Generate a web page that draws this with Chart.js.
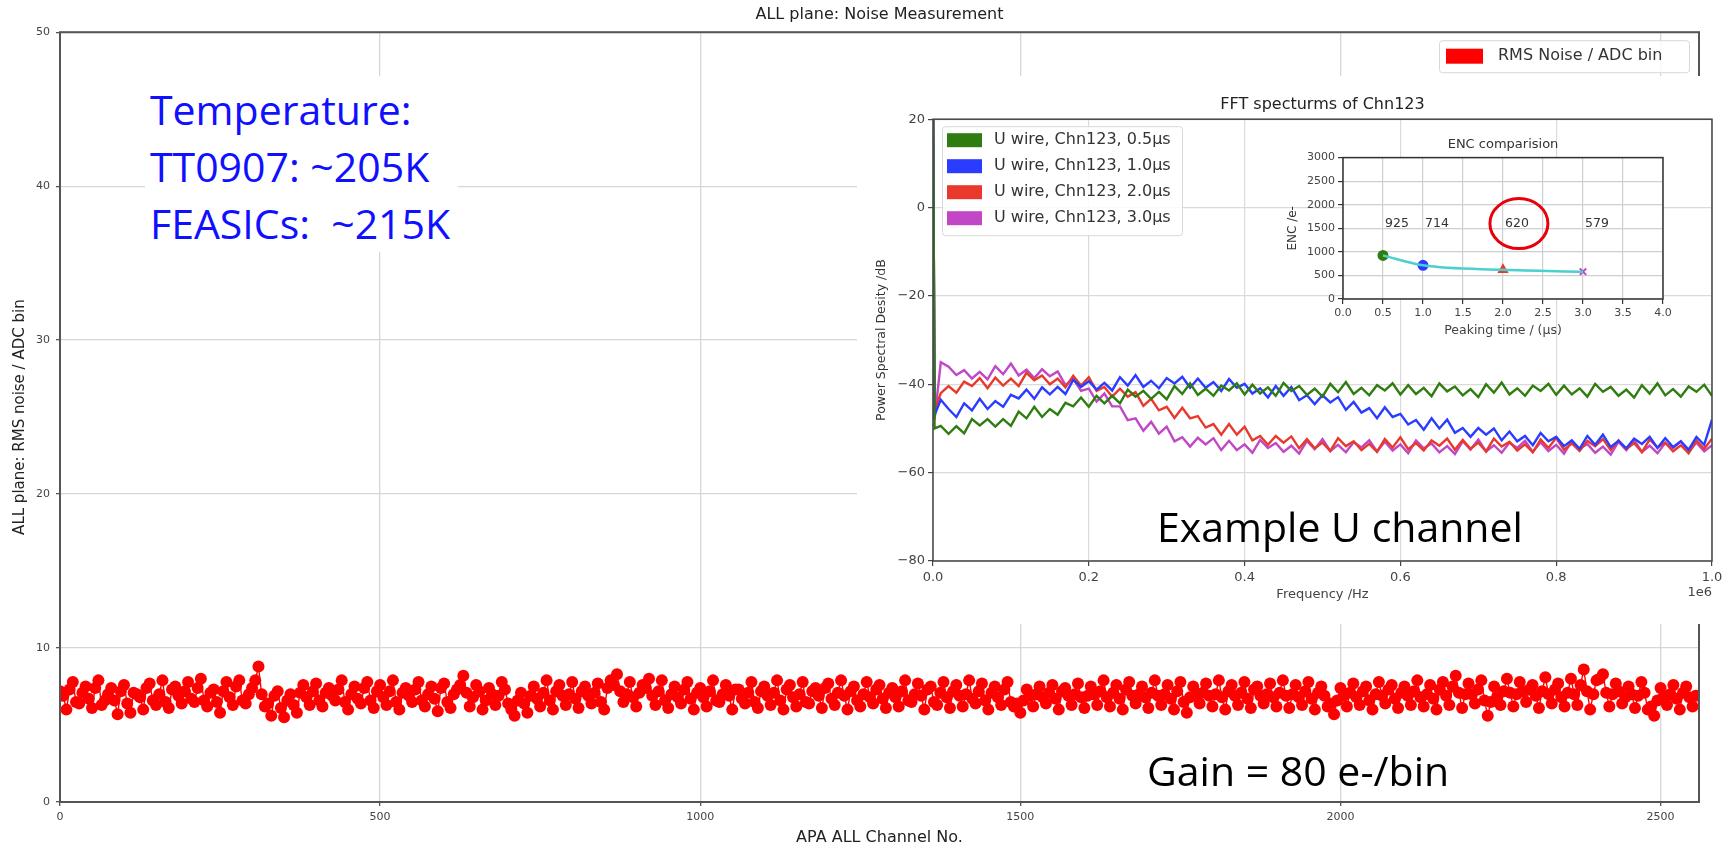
<!DOCTYPE html>
<html>
<head>
<meta charset="utf-8">
<title>ALL plane: Noise Measurement</title>
<script src="https://cdn.jsdelivr.net/npm/chart.js@4.4.1/dist/chart.umd.min.js"></script>
<style>
  html, body { margin: 0; padding: 0; background: #fff; }
  #page { position: relative; width: 1732px; height: 849px; overflow: hidden; }
  canvas { position: absolute; display: block; }
  .note { position: absolute; font-family: 'Open Sans', sans-serif; font-size: 41px; line-height: 57px; white-space: nowrap; color: #000; }
  #temperature { left: 145px; top: 76px; padding: 5px 8px 0 5px; background: #fff; color: #1010ff; }
  #inset { position: absolute; left: 857px; top: 76px; width: 875px; height: 548px; background: #fff; }
</style>
</head>
<body>
<div id="page">
  <canvas id="mainChart" width="1732" height="849" style="left:0;top:0;width:1732px;height:849px"></canvas>
  <div class="note" id="temperature">Temperature:<br>TT0907: ~205K<br>FEASICs:&nbsp; ~215K</div>
  <div id="inset">
    <canvas id="fftChart" width="875" height="548" style="left:0;top:0;width:875px;height:548px"></canvas>
    <canvas id="encChart" width="400" height="215" style="left:423px;top:54px;width:400px;height:215px"></canvas>
  </div>
  <div class="note" style="left:1157px;top:498px">Example U channel</div>
  <div class="note" style="left:1147px;top:742px">Gain = 80 e-/bin</div>
</div>
<script>
// ---- main panel: RMS noise per channel ----
// channels read every 10, plus the in-between channel 5 higher
const channels = [
  0, 10, 20, 30, 40, 50, 60, 70, 80, 90, 100, 110, 120, 130, 140, 150, 160, 170, 180, 190,
  200, 210, 220, 230, 240, 250, 260, 270, 280, 290, 300, 310, 320, 330, 340, 350, 360, 370, 380, 390,
  400, 410, 420, 430, 440, 450, 460, 470, 480, 490, 500, 510, 520, 530, 540, 550, 560, 570, 580, 590,
  600, 610, 620, 630, 640, 650, 660, 670, 680, 690, 700, 710, 720, 730, 740, 750, 760, 770, 780, 790,
  800, 810, 820, 830, 840, 850, 860, 870, 880, 890, 900, 910, 920, 930, 940, 950, 960, 970, 980, 990,
  1000, 1010, 1020, 1030, 1040, 1050, 1060, 1070, 1080, 1090, 1100, 1110, 1120, 1130, 1140, 1150, 1160, 1170, 1180, 1190,
  1200, 1210, 1220, 1230, 1240, 1250, 1260, 1270, 1280, 1290, 1300, 1310, 1320, 1330, 1340, 1350, 1360, 1370, 1380, 1390,
  1400, 1410, 1420, 1430, 1440, 1450, 1460, 1470, 1480, 1490, 1500, 1510, 1520, 1530, 1540, 1550, 1560, 1570, 1580, 1590,
  1600, 1610, 1620, 1630, 1640, 1650, 1660, 1670, 1680, 1690, 1700, 1710, 1720, 1730, 1740, 1750, 1760, 1770, 1780, 1790,
  1800, 1810, 1820, 1830, 1840, 1850, 1860, 1870, 1880, 1890, 1900, 1910, 1920, 1930, 1940, 1950, 1960, 1970, 1980, 1990,
  2000, 2010, 2020, 2030, 2040, 2050, 2060, 2070, 2080, 2090, 2100, 2110, 2120, 2130, 2140, 2150, 2160, 2170, 2180, 2190,
  2200, 2210, 2220, 2230, 2240, 2250, 2260, 2270, 2280, 2290, 2300, 2310, 2320, 2330, 2340, 2350, 2360, 2370, 2380, 2390,
  2400, 2410, 2420, 2430, 2440, 2450, 2460, 2470, 2480, 2490, 2500, 2510, 2520, 2530, 2540, 2550
];
const channelHalfStep = 5;
const rmsNoise = [
  7.2, 6.0, 7.8, 6.4, 7.5, 6.1, 7.9, 6.6, 7.4, 5.7,
  7.6, 5.8, 7.0, 6.0, 7.7, 6.3, 7.9, 6.1, 7.5, 6.4,
  7.8, 6.5, 8.0, 6.2, 7.3, 5.8, 7.8, 6.3, 7.9, 6.4,
  7.4, 8.8, 6.2, 5.6, 7.2, 5.5, 7.0, 5.8, 7.6, 6.3,
  7.7, 6.2, 7.4, 6.6, 7.9, 6.0, 7.5, 6.4, 7.8, 6.1,
  7.6, 6.3, 7.9, 6.0, 7.4, 6.5, 7.8, 6.2, 7.5, 5.9,
  7.7, 6.1, 7.3, 8.2, 6.2, 7.6, 6.0, 7.4, 6.3, 7.8,
  6.4, 5.6, 7.1, 5.8, 7.5, 6.2, 7.9, 6.0, 7.6, 6.3,
  7.8, 6.1, 7.5, 6.4, 7.7, 6.0, 7.9, 8.3, 6.5, 7.8,
  6.2, 7.6, 8.0, 6.3, 7.9, 6.1, 7.5, 6.4, 7.8, 6.0,
  7.4, 6.2, 7.9, 6.5, 7.6, 6.0, 7.3, 6.4, 7.8, 6.1,
  7.5, 6.3, 7.9, 6.0, 7.6, 6.2, 7.8, 6.4, 7.4, 6.1,
  7.7, 6.3, 7.9, 6.0, 7.5, 6.2, 7.8, 6.4, 7.6, 6.1,
  7.4, 6.2, 7.9, 6.5, 7.7, 6.0, 7.5, 6.3, 7.8, 6.1,
  7.6, 6.2, 7.9, 6.4, 7.7, 6.0, 7.5, 6.3, 7.8, 6.2,
  5.8, 7.3, 6.2, 7.5, 6.4, 7.6, 6.0, 7.4, 6.3, 7.7,
  6.1, 7.5, 6.3, 7.9, 6.2, 7.6, 6.0, 7.8, 6.4, 7.5,
  6.1, 7.9, 6.3, 7.6, 6.0, 7.8, 5.8, 7.5, 6.4, 7.7,
  6.2, 7.9, 6.0, 7.6, 6.3, 7.8, 6.1, 7.5, 6.4, 7.7,
  6.2, 7.9, 6.1, 7.6, 6.3, 7.8, 6.0, 7.5, 6.2, 5.7,
  7.4, 6.2, 7.7, 6.3, 7.5, 6.0, 7.8, 6.4, 7.6, 6.1,
  7.5, 6.3, 7.9, 6.2, 7.6, 6.0, 7.8, 6.3, 8.2, 6.1,
  7.7, 6.4, 7.9, 5.6, 7.5, 6.3, 8.0, 6.2, 7.8, 6.5,
  7.6, 6.1, 8.1, 6.4, 7.7, 6.2, 8.0, 6.3, 8.6, 6.0,
  7.9, 8.3, 6.2, 7.7, 6.4, 7.5, 6.1, 7.8, 6.0, 5.6,
  7.4, 6.3, 7.6, 6.0, 7.5, 6.2
];
const rmsNoiseMid = [
  6.9, 7.3, 6.5, 7.1, 6.7, 7.4, 6.3, 7.0, 6.6, 7.2,
  6.4, 7.1, 6.8, 7.4, 6.6, 7.0, 6.5, 7.3, 6.9, 7.2,
  6.7, 7.4, 6.6, 7.1, 6.5, 7.2, 6.8, 7.5, 6.6, 7.0,
  7.9, 7.0, 6.4, 6.9, 6.1, 6.6, 6.3, 7.1, 6.8, 7.2,
  6.6, 7.1, 6.9, 7.3, 6.5, 7.0, 6.7, 7.4, 6.6, 7.2,
  6.8, 7.2, 6.5, 7.1, 6.9, 7.3, 6.6, 7.0, 6.7, 7.4,
  6.5, 7.0, 7.6, 7.1, 6.8, 7.2, 6.6, 7.0, 6.9, 7.3,
  6.0, 6.6, 6.4, 6.9, 6.7, 7.1, 6.6, 7.2, 6.9, 7.0,
  6.7, 7.2, 6.9, 7.1, 6.5, 7.4, 7.6, 7.2, 7.0, 6.8,
  7.1, 7.4, 6.9, 7.2, 6.6, 7.0, 6.8, 7.3, 6.7, 7.1,
  6.8, 7.2, 6.6, 7.0, 6.9, 7.3, 6.7, 7.1, 6.5, 7.2,
  6.9, 7.1, 6.6, 7.3, 6.8, 7.0, 6.5, 7.2, 6.9, 7.4,
  6.7, 7.1, 6.9, 7.2, 6.6, 7.0, 6.8, 7.3, 6.7, 7.1,
  6.8, 7.2, 6.6, 7.0, 6.9, 7.3, 6.5, 7.1, 6.8, 7.2,
  6.9, 7.0, 6.7, 7.2, 6.6, 7.1, 6.8, 7.3, 6.5, 6.4,
  6.6, 6.9, 7.0, 6.8, 7.1, 6.7, 7.2, 6.9, 7.0, 6.8,
  6.9, 7.0, 7.2, 6.8, 7.1, 6.7, 7.3, 6.9, 7.0, 6.8,
  7.1, 6.9, 7.0, 6.7, 7.2, 6.5, 6.8, 7.0, 7.1, 6.9,
  7.0, 6.8, 7.2, 6.9, 7.1, 6.7, 7.3, 6.9, 7.0, 6.8,
  7.1, 6.9, 7.0, 6.8, 7.2, 6.7, 7.1, 6.9, 6.4, 6.6,
  6.9, 7.1, 6.8, 7.2, 6.6, 7.0, 6.9, 7.3, 6.7, 7.1,
  6.9, 7.2, 6.8, 7.0, 6.7, 7.3, 6.9, 7.5, 7.1, 7.0,
  7.0, 7.3, 6.6, 6.5, 6.8, 7.2, 7.1, 7.0, 7.2, 7.3,
  6.9, 7.2, 7.0, 7.3, 6.8, 7.1, 7.0, 7.6, 7.2, 7.0,
  8.0, 7.1, 7.0, 7.2, 6.8, 7.0, 6.9, 7.1, 6.2, 6.6,
  6.8, 7.0, 6.7, 7.1, 6.8, 6.9
];
const mainXTicks = [0, 500, 1000, 1500, 2000, 2500];
const mainYTicks = [0, 10, 20, 30, 40, 50];

// ---- FFT inset (kHz, dB) ----
const freqKHz = [
  0, 2, 10, 20, 30, 40, 50, 60, 70, 80, 90, 100, 110, 120, 130, 140, 150, 160, 170, 180, 190,
  200, 210, 220, 230, 240, 250, 260, 270, 280, 290, 300, 310, 320, 330, 340, 350, 360, 370, 380, 390,
  400, 410, 420, 430, 440, 450, 460, 470, 480, 490, 500, 510, 520, 530, 540, 550, 560, 570, 580, 590,
  600, 610, 620, 630, 640, 650, 660, 670, 680, 690, 700, 710, 720, 730, 740, 750, 760, 770, 780, 790,
  800, 810, 820, 830, 840, 850, 860, 870, 880, 890, 900, 910, 920, 930, 940, 950, 960, 970, 980, 990, 1000
];
const psd05us = [
  30, -50,
  -49.4, -51.2, -49.5, -51.1, -47.9, -49.3, -47.9, -49.6, -47.9, -49.4,
  -46.2, -47.7, -45.1, -47.4, -45.6, -46.9, -44.2, -45.0, -43.0, -45.1,
  -42.6, -44.3, -42.6, -44.3, -41.2, -42.8, -41.5, -43.3, -41.7, -43.4,
  -40.4, -42.2, -39.8, -42.4, -41.0, -42.6, -40.3, -41.4, -39.8, -42.3,
  -40.1, -42.1, -40.7, -42.6, -39.7, -41.5, -40.4, -42.4, -41.0, -42.8,
  -39.9, -41.8, -39.5, -42.2, -40.8, -42.5, -40.2, -41.4, -39.8, -42.3,
  -40.2, -42.2, -40.8, -42.7, -39.8, -41.6, -40.5, -42.5, -41.1, -42.9,
  -40.0, -41.9, -39.6, -42.3, -40.9, -42.6, -40.3, -41.5, -39.9, -42.4,
  -40.3, -42.3, -40.9, -42.8, -39.9, -41.7, -40.6, -42.6, -41.2, -43.0,
  -40.2, -42.1, -39.8, -42.5, -41.1, -42.8, -40.5, -41.7, -40.1, -42.6
];
const psd10us = [
  30, -47,
  -43.5, -45.6, -47.4, -44.3, -45.9, -43.3, -45.6, -43.8, -45.1, -42.4,
  -43.2, -41.2, -43.3, -40.7, -42.3, -40.6, -42.2, -39.0, -40.6, -39.3,
  -41.2, -39.7, -41.4, -38.4, -40.3, -37.9, -40.6, -39.2, -40.9, -38.6,
  -39.8, -38.3, -40.8, -38.7, -40.8, -39.5, -41.5, -38.8, -40.8, -39.9,
  -42.1, -40.9, -43.0, -40.4, -42.6, -40.6, -43.6, -42.5, -44.5, -42.5,
  -44.1, -42.9, -45.8, -44.0, -46.4, -45.4, -47.7, -45.2, -47.4, -46.7,
  -49.1, -48.1, -50.3, -47.7, -50.0, -48.0, -51.0, -49.9, -51.9, -49.9,
  -51.4, -50.0, -52.7, -50.7, -52.9, -51.7, -53.8, -51.0, -52.9, -51.9,
  -54.0, -52.7, -54.6, -51.7, -53.7, -51.4, -54.2, -52.8, -54.5, -52.3,
  -53.5, -51.9, -54.4, -52.2, -54.2, -52.9, -54.8, -51.9, -53.7, -48.0
];
const psd20us = [
  30, -46,
  -42.0, -40.4, -41.9, -39.4, -40.4, -38.6, -40.9, -38.5, -40.3, -38.7,
  -40.4, -37.4, -39.1, -38.0, -40.0, -38.7, -40.7, -38.1, -40.3, -38.4,
  -41.5, -40.6, -42.8, -41.0, -42.8, -41.8, -44.9, -43.3, -45.9, -45.1,
  -47.6, -45.3, -47.7, -47.2, -49.8, -49.0, -51.4, -49.0, -51.4, -49.6,
  -52.7, -51.7, -53.7, -51.7, -53.2, -51.8, -54.5, -52.4, -54.5, -53.2,
  -55.1, -52.2, -54.0, -52.9, -54.9, -53.5, -55.3, -52.4, -54.3, -52.0,
  -54.7, -53.3, -55.0, -52.7, -53.9, -52.3, -54.8, -52.6, -54.6, -53.2,
  -55.2, -52.3, -54.1, -53.0, -55.0, -53.6, -55.4, -52.5, -54.4, -52.1,
  -54.8, -53.4, -55.1, -52.8, -54.0, -52.4, -54.9, -52.7, -54.7, -53.3,
  -55.4, -52.5, -54.3, -53.2, -55.2, -53.8, -55.6, -52.7, -54.6, -52.3
];
const psd30us = [
  30, -48,
  -35.0, -36.0, -37.9, -36.8, -38.7, -37.2, -38.9, -35.9, -37.7, -35.3,
  -38.0, -36.7, -38.6, -36.6, -38.2, -37.1, -40.2, -38.7, -41.5, -41.0,
  -43.9, -42.1, -45.0, -45.0, -48.1, -47.7, -50.5, -48.5, -51.2, -49.6,
  -52.9, -52.0, -54.1, -52.1, -53.6, -52.2, -54.9, -52.8, -54.9, -53.6,
  -55.5, -52.6, -54.4, -53.3, -55.3, -53.9, -55.7, -52.8, -54.7, -52.4,
  -55.1, -53.7, -55.4, -53.1, -54.3, -52.7, -55.2, -53.0, -55.0, -53.6,
  -55.6, -52.7, -54.5, -53.4, -55.4, -54.0, -55.8, -52.9, -54.8, -52.5,
  -55.2, -53.8, -55.5, -53.2, -54.4, -52.8, -55.3, -53.1, -55.1, -53.7,
  -55.7, -52.8, -54.6, -53.5, -55.5, -54.1, -55.9, -53.0, -54.9, -52.6,
  -55.3, -53.9, -55.6, -53.3, -54.5, -52.9, -55.4, -53.2, -55.2, -53.8
];
const fftSeries = [psd05us, psd10us, psd20us, psd30us];
const fftLabels = ['U wire, Chn123, 0.5\u03bcs', 'U wire, Chn123, 1.0\u03bcs', 'U wire, Chn123, 2.0\u03bcs', 'U wire, Chn123, 3.0\u03bcs'];
const fftColors = ['#2f7d10', '#2a3cff', '#e8392c', '#c247c6'];
const fftXTicks = [0, 200000, 400000, 600000, 800000, 1000000];
const fftYTicks = [-80, -60, -40, -20, 0, 20];

// ---- ENC inset ----
const peakingTimes = [0.5, 1.0, 2.0, 3.0];
const encValues = [925, 714, 620, 579];
const encMarkers = ['circle', 'circle', 'triangle', 'crossRot'];
const encXTicks = [0, 0.5, 1, 1.5, 2, 2.5, 3, 3.5, 4];
const encYTicks = [0, 500, 1000, 1500, 2000, 2500, 3000];

const FONT = "'DejaVu Sans', sans-serif";

function fixedTicks(list) {
  return scale => { scale.ticks = list.map(v => ({ value: v })); };
}
function minusFmt(v) {
  return v < 0 ? '\u2212' + Math.abs(v) : String(v);
}

// box round the plot area (matplotlib spines), optional white face
const frameBox = {
  id: 'frameBox',
  beforeDraw(chart, args, o) {
    if (!o.fill) return;
    const a = chart.chartArea;
    chart.ctx.save();
    chart.ctx.fillStyle = o.fill;
    chart.ctx.fillRect(a.left, a.top, a.width, a.height);
    chart.ctx.restore();
  },
  afterDatasetsDraw(chart, args, o) {
    const { ctx, chartArea: a } = chart;
    ctx.save();
    ctx.strokeStyle = o.color || '#555';
    ctx.lineWidth = o.width || 1.5;
    ctx.strokeRect(a.left, a.top, a.width, a.height);
    ctx.restore();
  }
};

// legend drawn inside the plot area
const boxLegend = {
  id: 'boxLegend',
  afterDraw(chart, args, o) {
    const { ctx, chartArea: a } = chart;
    const x = o.right !== undefined ? a.right - o.right - o.width : a.left + o.left;
    const y = a.top + o.top;
    ctx.save();
    ctx.fillStyle = 'rgba(255,255,255,0.85)';
    ctx.strokeStyle = '#d8d8d8';
    ctx.lineWidth = 1;
    ctx.beginPath();
    ctx.roundRect(x + 0.5, y + 0.5, o.width, o.height, 3);
    ctx.fill();
    ctx.stroke();
    ctx.font = o.font;
    ctx.textBaseline = 'middle';
    ctx.textAlign = 'left';
    chart.data.datasets.forEach((ds, i) => {
      const cy = y + o.firstRow + i * o.rowGap;
      ctx.fillStyle = ds.borderColor;
      ctx.fillRect(x + o.swatchX, cy - o.swatchH / 2, o.swatchW, o.swatchH);
      ctx.fillStyle = '#333';
      ctx.fillText(ds.label, x + o.textX, cy);
    });
    ctx.restore();
  }
};

// "1e6" offset text under the right end of the x axis
const offsetText = {
  id: 'offsetText',
  afterDraw(chart, args, o) {
    const { ctx, chartArea: a } = chart;
    ctx.save();
    ctx.font = '13px ' + FONT;
    ctx.fillStyle = '#444';
    ctx.textAlign = 'right';
    ctx.textBaseline = 'middle';
    ctx.fillText(o.text, a.right, a.bottom + o.dy);
    ctx.restore();
  }
};

// value labels and the red circle in the ENC inset
const encNotes = {
  id: 'encNotes',
  afterDatasetsDraw(chart, args, o) {
    const { ctx, scales: { x, y } } = chart;
    const ly = y.getPixelForValue(o.labelLevel);
    ctx.save();
    ctx.font = '12.5px ' + FONT;
    ctx.fillStyle = '#333';
    ctx.textAlign = 'left';
    ctx.textBaseline = 'middle';
    peakingTimes.forEach((t, i) => {
      ctx.fillText(String(encValues[i]), x.getPixelForValue(t) + 2, ly);
    });
    const k = o.circled;
    const w = ctx.measureText(String(encValues[k])).width;
    const cx = x.getPixelForValue(peakingTimes[k]) + 2 + w / 2 + 2;
    ctx.strokeStyle = '#e8000b';
    ctx.lineWidth = 3;
    ctx.beginPath();
    ctx.ellipse(cx, ly, o.rx, o.ry, 0, 0, Math.PI * 2);
    ctx.stroke();
    ctx.restore();
  }
};

// interleave the two channel readings in channel order
const rmsPoints = [];
channels.forEach((c, i) => {
  rmsPoints.push({ x: c, y: rmsNoise[i] });
  rmsPoints.push({ x: c + channelHalfStep, y: rmsNoiseMid[i] });
});

// main chart
new Chart(document.getElementById('mainChart'), {
  type: 'line',
  data: {
    datasets: [{
      label: 'RMS Noise / ADC bin',
      data: rmsPoints,
      borderColor: '#ff0000',
      backgroundColor: '#ff0000',
      borderWidth: 1.4,
      pointRadius: 6,
      pointBorderWidth: 0,
      pointBackgroundColor: '#ff0000'
    }]
  },
  options: {
    responsive: false,
    animation: false,
    events: [],
    layout: { padding: { left: 0, right: 33, top: 0, bottom: 0 } },
    plugins: {
      legend: { display: false },
      tooltip: { enabled: false },
      title: {
        display: true, text: 'ALL plane: Noise Measurement', fullSize: false, color: '#222',
        font: { family: FONT, size: 16, weight: 'normal' }, padding: { top: 5, bottom: 8 }
      },
      frameBox: { color: '#555', width: 2 },
      boxLegend: { right: 10, top: 8, width: 250, height: 32, firstRow: 16, rowGap: 0, swatchX: 7, swatchW: 37, swatchH: 15, textX: 59, font: '16px ' + FONT }
    },
    scales: {
      x: {
        type: 'linear', min: 0, max: 2560,
        afterBuildTicks: fixedTicks(mainXTicks),
        afterFit: s => { s.height = 47; },
        grid: { color: '#d6d6d6', lineWidth: 1.3, tickLength: 4, tickColor: '#555' },
        border: { display: false },
        ticks: { font: { family: FONT, size: 11 }, color: '#444', padding: 5, maxRotation: 0, callback: v => String(v) },
        title: { display: true, text: 'APA ALL Channel No.', color: '#222', font: { family: FONT, size: 16 }, padding: { top: 0, bottom: 2 } }
      },
      y: {
        min: 0, max: 50,
        afterBuildTicks: fixedTicks(mainYTicks),
        afterFit: s => { s.width = 60; },
        grid: { color: '#d6d6d6', lineWidth: 1.3, tickLength: 4, tickColor: '#555' },
        border: { display: false },
        ticks: { font: { family: FONT, size: 11 }, color: '#444', padding: 6, callback: v => String(v) },
        title: { display: true, text: 'ALL plane: RMS noise / ADC bin', color: '#222', font: { family: FONT, size: 15 }, padding: { top: 11, bottom: 0 } }
      }
    }
  },
  plugins: [frameBox, boxLegend]
});

// FFT inset
new Chart(document.getElementById('fftChart'), {
  type: 'line',
  data: {
    datasets: fftSeries.map((vals, k) => ({
      label: fftLabels[k],
      data: freqKHz.map((f, i) => ({ x: f * 1000, y: vals[i] })),
      borderColor: fftColors[k],
      borderWidth: 2.4,
      pointRadius: 0
    }))
  },
  options: {
    responsive: false,
    animation: false,
    events: [],
    layout: { padding: { left: 0, right: 20, top: 0, bottom: 0 } },
    plugins: {
      legend: { display: false },
      tooltip: { enabled: false },
      title: {
        display: true, text: 'FFT specturms of Chn123', fullSize: false, color: '#222',
        font: { family: FONT, size: 16, weight: 'normal' }, padding: { top: 19, bottom: 5 }
      },
      frameBox: { color: '#444', width: 1.5 },
      boxLegend: { left: 9, top: 7, width: 240, height: 109, firstRow: 14, rowGap: 26, swatchX: 5, swatchW: 35, swatchH: 14, textX: 52, font: '16px ' + FONT },
      offsetText: { text: '1e6', dy: 32 }
    },
    scales: {
      x: {
        type: 'linear', min: 0, max: 1000000,
        afterBuildTicks: fixedTicks(fftXTicks),
        afterFit: s => { s.height = 63; },
        grid: { color: '#dadada', lineWidth: 1.2, tickLength: 5, tickColor: '#444' },
        border: { display: false },
        ticks: { font: { family: FONT, size: 13 }, color: '#444', padding: 4, maxRotation: 0, callback: v => (v / 1e6).toFixed(1) },
        title: { display: true, text: 'Frequency /Hz', color: '#444', font: { family: FONT, size: 13 }, padding: { top: 0, bottom: 22 } }
      },
      y: {
        min: -80, max: 20,
        afterBuildTicks: fixedTicks(fftYTicks),
        afterFit: s => { s.width = 76; },
        grid: { color: '#dadada', lineWidth: 1.2, tickLength: 5, tickColor: '#444' },
        border: { display: false },
        ticks: { font: { family: FONT, size: 13 }, color: '#444', padding: 3, callback: minusFmt },
        title: { display: true, text: 'Power Spectral Desity /dB', color: '#333', font: { family: FONT, size: 12.5 }, padding: { top: 17, bottom: 0 } }
      }
    }
  },
  plugins: [frameBox, boxLegend, offsetText]
});

// ENC inset
new Chart(document.getElementById('encChart'), {
  type: 'line',
  data: {
    datasets: [{
      label: 'ENC',
      data: peakingTimes.map((t, i) => ({ x: t, y: encValues[i] })),
      borderColor: '#4ccfcf',
      borderWidth: 2.5,
      pointRadius: 0,
      cubicInterpolationMode: 'monotone'
    }, {
      label: 'points',
      data: peakingTimes.map((t, i) => ({ x: t, y: encValues[i] })),
      showLine: false,
      pointStyle: encMarkers,
      pointRadius: 4.5,
      pointBackgroundColor: fftColors,
      pointBorderColor: fftColors,
      pointBorderWidth: 2
    }]
  },
  options: {
    responsive: false,
    animation: false,
    events: [],
    layout: { padding: { left: 0, right: 17, top: 0, bottom: 0 } },
    plugins: {
      legend: { display: false },
      tooltip: { enabled: false },
      title: {
        display: true, text: 'ENC comparision', fullSize: false, color: '#333',
        font: { family: FONT, size: 13, weight: 'normal' }, padding: { top: 7, bottom: 5 }
      },
      frameBox: { fill: '#fff', color: '#333', width: 1.5 },
      encNotes: { labelLevel: 1600, circled: 2, rx: 29, ry: 25 }
    },
    scales: {
      x: {
        type: 'linear', min: 0, max: 4,
        afterBuildTicks: fixedTicks(encXTicks),
        afterFit: s => { s.height = 46; },
        grid: { color: '#cfcfcf', lineWidth: 1.2, tickLength: 5, tickColor: '#333' },
        border: { display: false },
        ticks: { font: { family: FONT, size: 11 }, color: '#444', padding: 3, maxRotation: 0, callback: v => v.toFixed(1) },
        title: { display: true, text: 'Peaking time / (\u03bcs)', color: '#444', font: { family: FONT, size: 12.5 }, padding: { top: 0, bottom: 7 } }
      },
      y: {
        min: 0, max: 3000,
        afterBuildTicks: fixedTicks(encYTicks),
        afterFit: s => { s.width = 63; },
        grid: { color: '#cfcfcf', lineWidth: 1.2, tickLength: 5, tickColor: '#333' },
        border: { display: false },
        ticks: { font: { family: FONT, size: 11 }, color: '#444', padding: 3, callback: v => String(v) },
        title: { display: true, text: 'ENC /e-', color: '#333', font: { family: FONT, size: 12 }, padding: { top: 6, bottom: 0 } }
      }
    }
  },
  plugins: [frameBox, encNotes]
});
</script>
</body>
</html>
